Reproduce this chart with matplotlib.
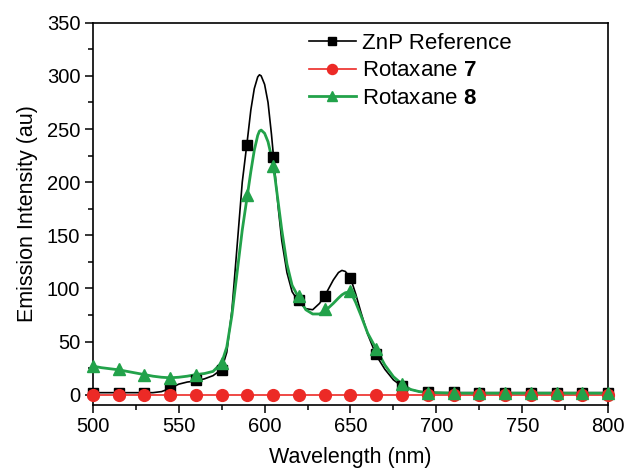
import matplotlib
matplotlib.use("Agg")
import matplotlib.pyplot as plt
from matplotlib.lines import Line2D
from matplotlib.ticker import MultipleLocator

plt.rcParams['font.family'] = ['Liberation Sans', 'DejaVu Sans']
plt.rcParams['mathtext.fontset'] = 'custom'
plt.rcParams['mathtext.rm'] = 'Liberation Sans'
plt.rcParams['mathtext.bf'] = 'Liberation Sans:bold'

# ---- data ----
# dense spectra (lines)
wl_line = [500, 505, 510, 515, 520, 525, 530, 535, 540, 545, 550, 555, 560, 565, 570,
           575, 578, 581, 584, 587, 590, 592, 594, 596, 597, 598, 600, 602, 604, 606,
           608, 610, 613, 616, 620, 624, 628, 632, 636, 640, 643, 645, 647, 650, 653,
           656, 660, 665, 670, 675, 680, 685, 690, 695, 700, 710, 720, 730, 740, 750,
           760, 770, 780, 790, 800]
znp_line = [2, 2, 2, 2, 2, 2, 2, 2, 3, 6, 10, 12, 13, 15, 18,
            24, 40, 80, 140, 200, 240, 268, 288, 299, 301, 300, 292, 275, 245, 210,
            175, 145, 115, 97, 87, 81, 80, 86, 96, 108, 115, 117, 116, 110, 95,
            78, 57, 37, 24, 14, 8, 5, 3, 2.5, 2, 2, 2, 2, 2, 2,
            2, 2, 2, 2, 2]
rot8_line = [27, 25.5, 24.5, 23.5, 22, 20.5, 19, 17.5, 16.5, 16, 16.5, 17.5, 19, 20, 22,
             30, 45, 75, 115, 155, 188, 210, 230, 244, 248, 249, 246, 238, 224, 205,
             180, 155, 123, 103, 91, 80, 76, 76, 80, 86, 91, 94, 96, 97, 87,
             75, 58, 43, 28, 17, 10, 5, 3, 2, 2, 1.5, 1.5, 1.5, 1.5, 1.5,
             1.5, 1.5, 1.5, 1.5, 1.5]
rot7_line = [0] * len(wl_line)

# marker points (every 15 nm)
wl_mark = [500, 515, 530, 545, 560, 575, 590, 605, 620, 635, 650, 665, 680, 695,
           710, 725, 740, 755, 770, 785, 800]
znp_mark = [2, 2, 2, 6, 14, 23, 235, 224, 89, 93, 110, 38, 8, 3,
            3, 1.5, 1.5, 1.5, 1.5, 1.5, 1.5]
rot7_mark = [0] * len(wl_mark)
rot8_mark = [27, 24, 19, 16, 19, 30, 188, 215, 93, 81, 98, 43, 10, 2,
             2, 1.5, 1.5, 1.5, 1.5, 1.5, 1.5]

labels = ['ZnP Reference', 'Rotaxane $\\mathbf{7}$', 'Rotaxane $\\mathbf{8}$']
colors = ['black', '#ec2a26', '#22a24a']
markers = ['s', 'o', '^']
lws = [1.2, 1.2, 2.0]
msizes = [7, 8.5, 8.5]

fig = plt.figure(figsize=(6.27, 4.73), dpi=100)
ax = fig.add_axes([0.148, 0.144, 0.822, 0.808])

series = [(znp_line, znp_mark), (rot7_line, rot7_mark), (rot8_line, rot8_mark)]
handles = []
for (yl, ym), c, m, lw, ms, lab in zip(series, colors, markers, lws, msizes, labels):
    ax.plot(wl_line, yl, color=c, lw=lw, clip_on=False, zorder=2)
    ax.plot(wl_mark, ym, ls='none', marker=m, color=c, ms=ms, clip_on=False, zorder=3)
    handles.append(Line2D([], [], color=c, lw=lw, marker=m, ms=ms * 0.85, label=lab))

ax.set_xlim(500, 800)
ax.set_ylim(-9.5, 350)
ax.xaxis.set_major_locator(MultipleLocator(50))
ax.xaxis.set_minor_locator(MultipleLocator(25))
ax.yaxis.set_major_locator(MultipleLocator(50))
ax.yaxis.set_minor_locator(MultipleLocator(25))
ax.tick_params(which='both', direction='out', labelsize=14.5, width=1.1, top=False, right=False)
ax.tick_params(which='major', length=6, pad=3)
ax.tick_params(which='minor', length=3.5)
for s in ax.spines.values():
    s.set_linewidth(1.2)

ax.set_xlabel('Wavelength (nm)', fontsize=15.5, labelpad=8)
ax.set_ylabel('Emission Intensity (au)', fontsize=15.5, labelpad=6)

ax.legend(handles=handles, loc='upper left', bbox_to_anchor=(0.4, 1.0), frameon=False,
          fontsize=16, handlelength=2.1, handletextpad=0.3, labelspacing=0.3,
          borderaxespad=0.05)

fig.savefig('out.png', dpi=100)
